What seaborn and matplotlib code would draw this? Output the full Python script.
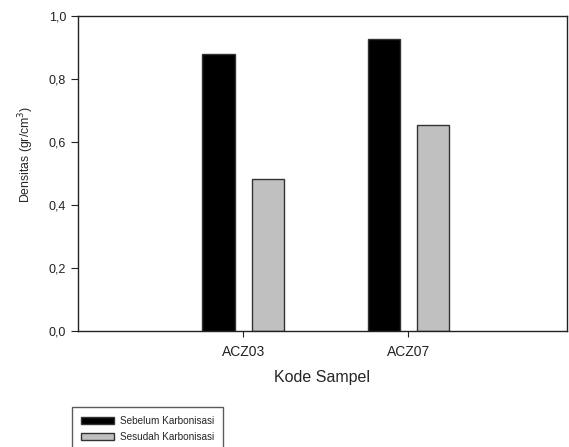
import numpy as np
import pandas as pd
import matplotlib as mpl
mpl.use("Agg")
import matplotlib.pyplot as plt
import seaborn as sns

samples = ["ACZ03", "ACZ07"]
sebelum = [0.879, 0.927]
sesudah = [0.481, 0.654]
groups = ["Sebelum Karbonisasi", "Sesudah Karbonisasi"]

dat = pd.DataFrame({
    "Sampel": samples * 2,
    "Kondisi": [groups[0]] * 2 + [groups[1]] * 2,
    "Densitas": sebelum + sesudah,
})

sns.set_style("ticks")
plt.rcParams["font.family"] = ["Liberation Sans", "DejaVu Sans"]

fig = plt.figure(figsize=(5.69, 4.47), dpi=100)
ax = fig.add_axes([78 / 569, 1 - 331 / 447, (567 - 78) / 569, (331 - 16) / 447])

sns.barplot(data=dat, x="Sampel", y="Densitas", hue="Kondisi",
            palette=["black", "#c0c0c0"], width=0.6, gap=0.35,
            edgecolor="#333333", linewidth=1.0, ax=ax, legend=False)

ax.set_xlim(-1, 1.96)
ax.set_ylim(0, 1.0)
ax.set_yticks(np.arange(0, 1.01, 0.2))
ax.set_yticklabels([f"{v:.1f}".replace(".", ",") for v in np.arange(0, 1.01, 0.2)])
ax.tick_params(axis="y", labelsize=9, colors="#222222", length=5, width=0.8)
ax.tick_params(axis="x", labelsize=10, colors="#222222", length=4, width=0.8, pad=6)
ax.set_xlabel("Kode Sampel", fontsize=11.5, labelpad=8)
ax.set_ylabel("Densitas (gr/cm$^3$)", fontsize=8.8)
ax.yaxis.set_label_coords(-0.085, 0.56)
for s in ax.spines.values():
    s.set_linewidth(1.0)
    s.set_color("#222222")

handles = [mpl.patches.Patch(facecolor="black", edgecolor="#333333", label=groups[0]),
           mpl.patches.Patch(facecolor="#c0c0c0", edgecolor="#333333", label=groups[1])]
fig.legend(handles=handles, loc="upper left", bbox_to_anchor=(72 / 569, 1 - 407 / 447),
           fontsize=7.2, frameon=True, fancybox=False, edgecolor="#333333",
           handlelength=3.3, handleheight=0.65, handletextpad=0.6,
           borderpad=0.9, labelspacing=0.6, borderaxespad=0)

fig.savefig("out.png", dpi=100)
